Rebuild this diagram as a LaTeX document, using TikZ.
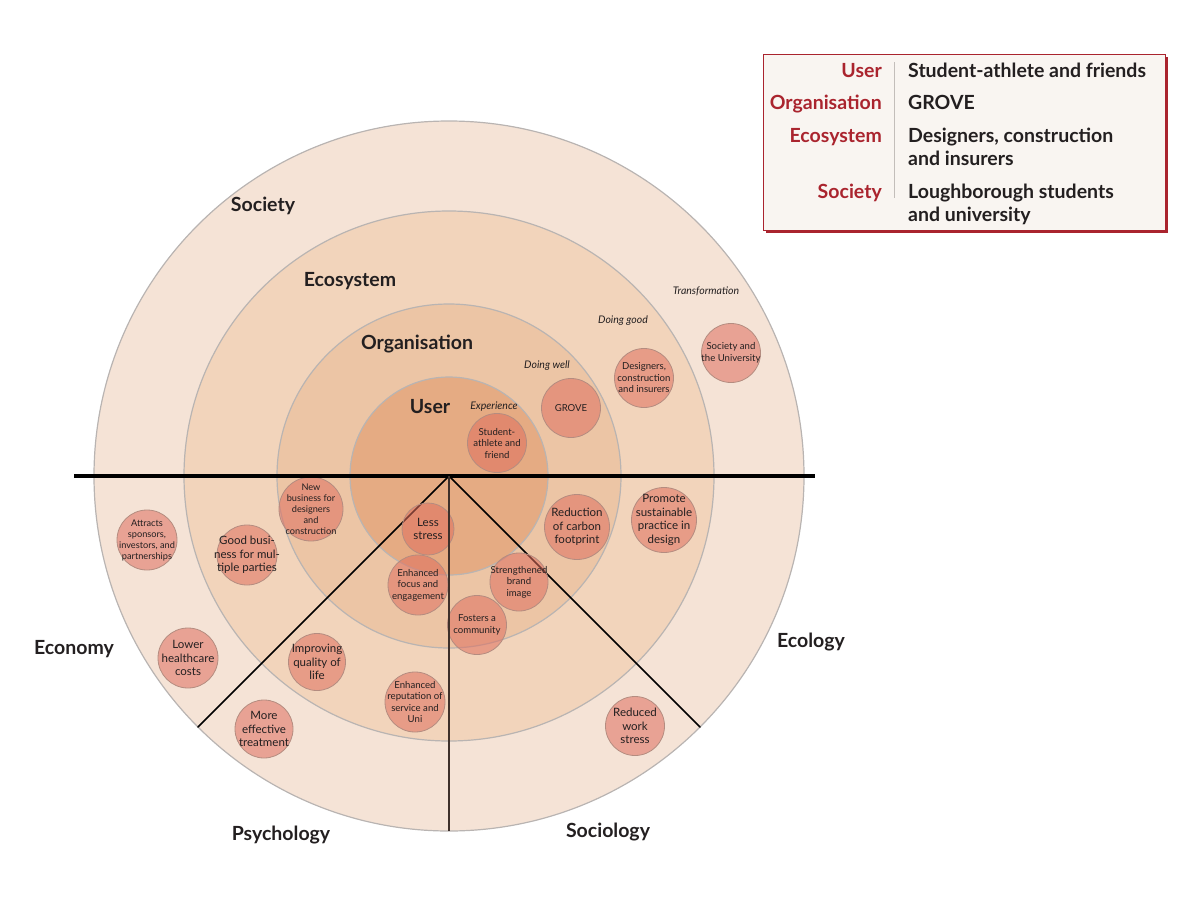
\documentclass[tikz,border=0pt]{standalone}
\usepackage{fontspec}
\setmainfont{Lato}
\usetikzlibrary{positioning}

\definecolor{societyring}{RGB}{245,227,214}
\definecolor{ecosystemring}{RGB}{242,212,187}
\definecolor{organisationring}{RGB}{236,197,165}
\definecolor{userring}{RGB}{229,171,131}
\definecolor{ringline}{RGB}{185,180,178}
\definecolor{effectfill}{RGB}{222,110,94}
\definecolor{effectline}{RGB}{180,140,128}
\definecolor{darktext}{RGB}{35,31,32}
\definecolor{stemline}{RGB}{62,48,42}
\definecolor{keyred}{RGB}{170,36,46}
\definecolor{keyback}{RGB}{249,245,241}
\definecolor{keyrule}{RGB}{195,190,186}

\begin{document}
\begin{tikzpicture}[
		x=1pt, y=-1pt,
		ring/.style={draw=ringline, line width=1.2pt},
		divider/.style={line width=1.5pt, line cap=round},
		effect disc/.style={circle, draw=effectline, line width=0.8pt, fill=effectfill, fill opacity=0.55, minimum size=59pt, inner sep=0pt},
		effect text/.style={align=center, inner sep=0pt, fill opacity=1, text opacity=1, text=darktext, font=\fontsize{9.6}{11.5}\selectfont},
		effect/.style={effect disc, label={[effect text]center:#1}},
		effect small/.style={effect disc, label={[effect text, font=\fontsize{9.2}{11}\selectfont]center:#1}},
		effect large/.style={effect disc, label={[effect text, font=\fontsize{11.5}{13.5}\selectfont]center:#1}},
		ring label/.style={text=darktext, font=\fontsize{19.5}{22}\selectfont\bfseries},
		stage label/.style={text=darktext, font=\fontsize{10.5}{12}\selectfont\itshape},
		legend key/.style={anchor=base east, inner sep=0pt, text=keyred, font=\fontsize{19.5}{23}\selectfont\bfseries},
		legend value/.style={inner sep=0pt, align=left, text=darktext, font=\fontsize{19.5}{23}\selectfont\bfseries},
	]
	\useasboundingbox (0,0) rectangle (1200,900);

	\coordinate (centre) at (449,476);
	\coordinate (axis west) at (74,476);
	\coordinate (axis east) at (815,476);
	\coordinate (economy end) at (198,727);
	\coordinate (sociology end) at (449,831);
	\coordinate (ecology end) at (700,727);

	\draw[ring, fill=societyring] (centre) circle[radius=355];
	\draw[ring, fill=ecosystemring] (centre) circle[radius=265];
	\draw[ring, fill=organisationring] (centre) circle[radius=172];
	\draw[ring, fill=userring] (centre) circle[radius=99];

	\draw[divider] (centre) -- (economy end);
	\draw[divider] (centre) -- (ecology end);

	\node[ring label] (society) at (263,206) {Society};
	\node[ring label] (ecosystem) at (350,281) {Ecosystem};
	\node[ring label] (organisation) at (417,344) {Organisation};
	\node[ring label] (user) at (430,407) {User};

	\node[stage label] (experience) at (494,407) {Experience};
	\node[stage label] (doing well) at (547,366) {Doing well};
	\node[stage label] (doing good) at (623,321) {Doing good};
	\node[stage label] (transformation) at (706,291) {Transformation};

	\node[effect={Student-\\athlete and\\friend}] (student athlete) at (497,443) {};
	\node[effect={GROVE}] (grove) at (571,408) {};
	\node[effect={Designers,\\construction\\and insurers}] (designers) at (644,378) {};
	\node[effect={Society and\\the University}] (university) at (731,353) {};

	\node[effect small={New\\business for\\designers\\and\\construction}, minimum size=64pt] (new business) at (311,509) {};
	\node[effect small={Attracts\\sponsors,\\investors, and\\partnerships}, minimum size=60pt] (sponsors) at (147,540) {};
	\node[effect large={Good busi-\\ness for mul-\\tiple parties}, minimum size=60pt] (good business) at (247,555) {};
	\node[effect large={Less\\stress}, minimum size=52pt] (less stress) at (428,529) {};
	\node[effect={Enhanced\\focus and\\engagement}, minimum size=60pt] (focus) at (418,585) {};
	\node[effect={Strengthened\\brand\\image}, minimum size=58pt] (brand) at (519,582) {};
	\node[effect={Fosters a\\community}] (community) at (477,625) {};
	\node[effect large={Reduction\\of carbon\\footprint}, minimum size=65pt] (carbon) at (577,527) {};
	\node[effect large={Promote\\sustainable\\practice in\\design}, minimum size=65pt] (sustainable) at (664,520) {};
	\node[effect large={Lower\\healthcare\\costs}, minimum size=60pt] (healthcare) at (188,658) {};
	\node[effect large={Improving\\quality of\\life}, minimum size=57pt] (quality) at (317,662) {};
	\node[effect={Enhanced\\reputation of\\service and\\Uni}, minimum size=60pt] (reputation) at (415,702) {};
	\node[effect large={More\\effective\\treatment}, minimum size=58pt] (treatment) at (264,729) {};
	\node[effect large={Reduced\\work\\stress}] (work stress) at (635,726) {};

	\draw[line width=4pt] (axis west) -- (axis east);
	\draw[line width=2pt, stemline] (centre) -- (sociology end);

	\node[ring label] (economy) at (74,649) {Economy};
	\node[ring label] (ecology) at (811,642) {Ecology};
	\node[ring label] (psychology) at (281,835) {Psychology};
	\node[ring label] (sociology) at (608,832) {Sociology};

	\fill[keyred] (766,57) rectangle (1168,233);
	\draw[keyred, fill=keyback, line width=0.8pt] (763,54) rectangle (1165,230);
	\draw[keyrule, line width=0.8pt] (894,62) -- (894,198);

	\node[legend key] (user key) at (882,77) {User};
	\node[legend key] (organisation key) at (882,109) {Organisation};
	\node[legend key] (ecosystem key) at (882,142) {Ecosystem};
	\node[legend key] (society key) at (882,198) {Society};

	\node[legend value, right=26pt of user key.base east, anchor=base west] (user value) {Student-athlete and friends};
	\node[legend value, right=26pt of organisation key.base east, anchor=base west] (organisation value) {GROVE};
	\node[legend value, right=26pt of ecosystem key.base east, anchor=base west, yshift=-23pt] (ecosystem value) {Designers, construction\\and insurers};
	\node[legend value, right=26pt of society key.base east, anchor=base west, yshift=-23pt] (society value) {Loughborough students\\and university};
\end{tikzpicture}
\end{document}
